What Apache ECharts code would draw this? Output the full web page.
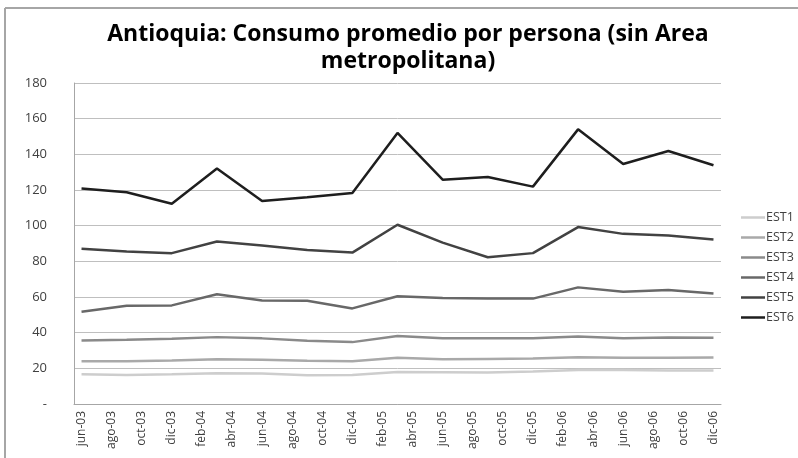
<!DOCTYPE html>
<html>
<head>
<meta charset="utf-8">
<script src="https://cdn.jsdelivr.net/npm/echarts@6/dist/echarts.min.js"></script>
<style>html,body{margin:0;padding:0;background:#fff;}#c{width:798px;height:458px;}</style>
</head>
<body>
<div id="c"></div>
<script>
// Monthly axis (jun-03 .. dic-06); labels shown every 2 months
var monthNames = ['ene','feb','mar','abr','may','jun','jul','ago','sep','oct','nov','dic'];
var months = [];
(function(){
  for (var y = 2003; y <= 2006; y++) {
    for (var m = 0; m < 12; m++) {
      if (y === 2003 && m < 5) continue;
      months.push(monthNames[m] + '-' + String(y).slice(2));
    }
  }
})();
// Quarterly observation dates
var dates = ['jun-03','sep-03','dic-03','mar-04','jun-04','sep-04','dic-04','mar-05','jun-05','sep-05','dic-05','mar-06','jun-06','sep-06','dic-06'];
var seriesNames = ['EST1','EST2','EST3','EST4','EST5','EST6'];
var est1 = [16.7,16.3,16.7,17.3,17.1,16.1,16.3,18.0,17.8,17.6,18.2,19.0,19.0,18.8,18.8];
var est2 = [24.0,24.0,24.4,25.1,24.8,24.2,24.0,25.9,25.1,25.3,25.5,26.2,25.9,25.9,26.1];
var est3 = [35.6,36.0,36.6,37.5,36.8,35.4,34.7,38.1,36.8,36.8,36.9,37.9,36.9,37.3,37.1];
var est4 = [51.7,55.1,55.3,61.5,58.1,57.9,53.6,60.4,59.4,59.1,59.1,65.4,63.0,63.9,61.9];
var est5 = [87.0,85.5,84.6,91.1,88.9,86.4,84.9,100.5,90.5,82.3,84.6,99.2,95.4,94.5,92.3];
var est6 = [120.8,118.7,112.3,132.0,113.8,116.0,118.3,152.0,125.8,127.3,121.9,154.0,134.6,141.9,133.9];
var yTicks = [0,20,40,60,80,100,120,140,160,180];

var values = [est1, est2, est3, est4, est5, est6];
var colors = ['#cdcdcd','#a9a9a9','#8a8a8a','#686868','#424242','#1e1e1e'];
var widths = [2.5,2.5,2.5,2.5,2.5,2.5];

function toMonthly(arr) {
  return months.map(function(mo){
    var i = dates.indexOf(mo);
    return i >= 0 ? arr[i] : null;
  });
}

var chart = echarts.init(document.getElementById('c'), null, {renderer:'canvas'});
var font = '"Open Sans", sans-serif';
chart.setOption({
  animation: false,
  backgroundColor: '#fff',
  title: {
    text: 'Antioquia: Consumo promedio por persona (sin Area\nmetropolitana)',
    left: 403, top: 16, textAlign: 'center',
    textStyle: {fontFamily: font, fontWeight: 'bold', fontSize: 23, lineHeight: 27, color: '#000'}
  },
  graphic: [
    {type:'line', shape:{x1:5, y1:8, x2:798, y2:8}, style:{stroke:'#a6a6a6', lineWidth:2}},
    {type:'line', shape:{x1:5, y1:8, x2:5, y2:458}, style:{stroke:'#a6a6a6', lineWidth:2}}
  ],
  legend: {
    orient: 'vertical', left: 736, top: 206,
    itemWidth: 24, itemHeight: 14, itemGap: 7,
    data: seriesNames.map(function(n){ return {name: n, icon: 'path://M0,6 L24,6 L24,8.5 L0,8.5 Z'}; }),
    textStyle: {fontFamily: font, fontSize: 12.5, color: '#404040', padding: [0,0,0,-4]}
  },
  grid: {left: 74, right: 77, top: 83, bottom: 54, containLabel: false},
  xAxis: {
    type: 'category', data: months, boundaryGap: true,
    axisLine: {show: true, lineStyle: {color: '#a6a6a6', width: 1}},
    axisTick: {show: false},
    axisLabel: {interval: 1, rotate: 90, fontFamily: font, fontSize: 12, color: '#404040', margin: 7}
  },
  yAxis: {
    type: 'value', min: 0, max: 180, interval: 20,
    axisLine: {show: true, lineStyle: {color: '#a6a6a6', width: 1}},
    axisTick: {show: false},
    splitLine: {show: true, lineStyle: {color: '#bfbfbf', width: 1}},
    axisLabel: {fontFamily: font, fontSize: 13, color: '#404040', margin: 27,
      formatter: function(v){ return yTicks.indexOf(v) >= 0 ? (v === 0 ? '-' : String(v)) : ''; }}
  },
  series: seriesNames.map(function(n, i){
    return {
      name: n, type: 'line', data: toMonthly(values[i]), connectNulls: true,
      symbol: 'none', lineStyle: {color: colors[i], width: widths[i]}, itemStyle: {color: colors[i]}
    };
  })
});
</script>
</body>
</html>
